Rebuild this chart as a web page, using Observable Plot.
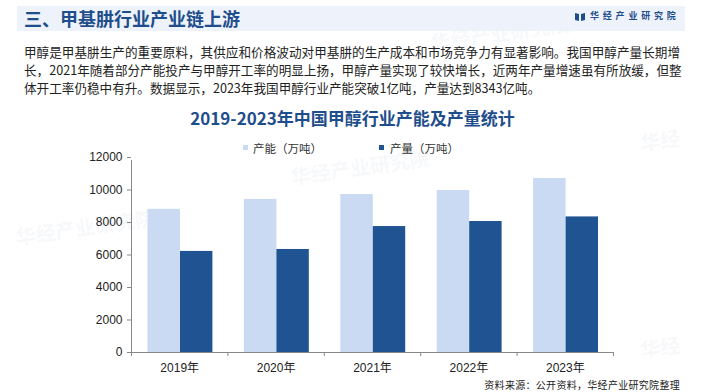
<!DOCTYPE html>
<html><head><meta charset="utf-8">
<script src="https://cdn.jsdelivr.net/npm/d3@7"></script>
<script src="https://cdn.jsdelivr.net/npm/@observablehq/plot@0.6"></script>
<style>
html,body{margin:0;padding:0;background:#fff;}
body{width:705px;height:392px;position:relative;overflow:hidden;font-family:"Noto Sans CJK SC","Noto Sans",sans-serif;}
.abs{position:absolute;white-space:nowrap;}
#hdr{left:17px;top:6px;width:668px;height:25px;background:#eef3fb;}
#htitle{left:24px;top:6px;height:25px;line-height:25px;font-size:18px;font-weight:700;color:#1f4e8c;}
#logo{left:575px;top:13px;}
#logotext{left:590px;top:8px;height:16px;line-height:16px;font-size:9px;font-weight:700;color:#1f4e8c;letter-spacing:3.8px;}
.para{position:absolute;left:24px;width:656px;font-size:12.6px;line-height:18px;height:18px;color:#222;text-align:justify;text-align-last:justify;white-space:nowrap;}
.para.last{text-align-last:left;}
#ctitle{left:0;width:705px;top:106px;text-align:center;font-size:17px;line-height:24px;font-weight:700;color:#1f4e8c;}
.sw{position:absolute;width:5px;height:5px;}
.lg{position:absolute;font-size:11.5px;line-height:14px;color:#333;}
#chart{position:absolute;left:0;top:140px;}
#foot{right:25px;top:377px;font-size:10px;line-height:16px;color:#222;letter-spacing:0.3px;}
.wm{position:absolute;font-size:20px;font-weight:700;color:rgba(170,185,205,0.11);transform:rotate(-8deg);white-space:nowrap;}
#chart g[aria-label="y-axis tick"], #chart g[aria-label="x-axis tick"]{stroke:#888;}
</style>
</head><body>
<div class="wm" style="left:430px;top:18px;">华经产业研究院</div>
<div class="wm" style="left:15px;top:212px;">华经产业研究院</div>
<div class="wm" style="left:290px;top:152px;">华经产业研究院</div>
<div class="wm" style="left:640px;top:125px;">华经</div>
<div class="wm" style="left:640px;top:332px;">华经</div>
<div class="abs" id="hdr"></div>
<div class="abs" id="htitle">三、甲基肼行业产业链上游</div>
<svg class="abs" id="logo" width="10" height="8" viewBox="0 0 10 8"><polygon points="0,0 4,1 4,8 0,7" fill="#1f4e8c"/><polygon points="6,1 10,0 10,7 6,8" fill="#1f4e8c"/></svg>
<div class="abs" id="logotext">华经产业研究院</div>
<div class="para" style="top:43px;">甲醇是甲基肼生产的重要原料，其供应和价格波动对甲基肼的生产成本和市场竞争力有显著影响。我国甲醇产量长期增</div>
<div class="para" style="top:61px;">长，2021年随着部分产能投产与甲醇开工率的明显上扬，甲醇产量实现了较快增长，近两年产量增速虽有所放缓，但整</div>
<div class="para last" style="top:79px;">体开工率仍稳中有升。数据显示，2023年我国甲醇行业产能突破1亿吨，产量达到8343亿吨。</div>
<div class="abs" id="ctitle">2019-2023年中国甲醇行业产能及产量统计</div>
<div class="sw" style="left:243px;top:145px;background:#c9daf2;"></div>
<div class="lg" style="left:253px;top:141px;">产能（万吨）</div>
<div class="sw" style="left:379px;top:145px;background:#1f5391;"></div>
<div class="lg" style="left:390px;top:141px;">产量（万吨）</div>
<div id="chart"></div>
<div class="abs" id="foot">资料来源：公开资料，华经产业研究院整理</div>
<script>
const years = ["2019年","2020年","2021年","2022年","2023年"];
const capacity = [8810, 9420, 9720, 9970, 10710];
const production = [6220, 6340, 7750, 8060, 8343];
const yTicks = [0, 2000, 4000, 6000, 8000, 10000, 12000];
const colors = {capacity: "#c9daf2", production: "#1f5391"};

const rows = years.map((year, i) => ({i, year, capacity: capacity[i], production: production[i]}));

const plot = Plot.plot({
  width: 705,
  height: 240,
  marginLeft: 131,
  marginRight: 92,
  marginTop: 17,
  marginBottom: 28,
  style: {fontFamily: "'Liberation Sans','Noto Sans CJK SC',sans-serif", fontSize: "12px", color: "#222", background: "transparent"},
  x: {type: "linear", domain: [0, years.length], axis: null},
  y: {domain: [0, 12000], axis: null},
  marks: [
    Plot.rectY(rows, {x1: d => d.i, x2: d => d.i + 1, y: "capacity", fill: colors.capacity, insetLeft: 16.5, insetRight: 47.4}),
    Plot.rectY(rows, {x1: d => d.i, x2: d => d.i + 1, y: "production", fill: colors.production, insetLeft: 49, insetRight: 15}),
    Plot.axisY({ticks: yTicks, tickSize: 4, tickPadding: 5, tickFormat: d => String(d), fontSize: 12}),
    Plot.ruleX([0], {y1: 0, y2: 12000, stroke: "#888", insetBottom: -3}),
    Plot.ruleY([0], {x1: 0, x2: years.length, stroke: "#888"}),
    Plot.axisX({ticks: d3.range(0, years.length + 1), tickSize: 4, tickFormat: () => ""}),
    Plot.axisX({ticks: years.map((_, i) => i + 0.5), tickSize: 0, tickPadding: 11, tickFormat: d => years[Math.floor(d)], fontSize: 12})
  ]
});
document.getElementById("chart").appendChild(plot);
</script>
</body></html>
